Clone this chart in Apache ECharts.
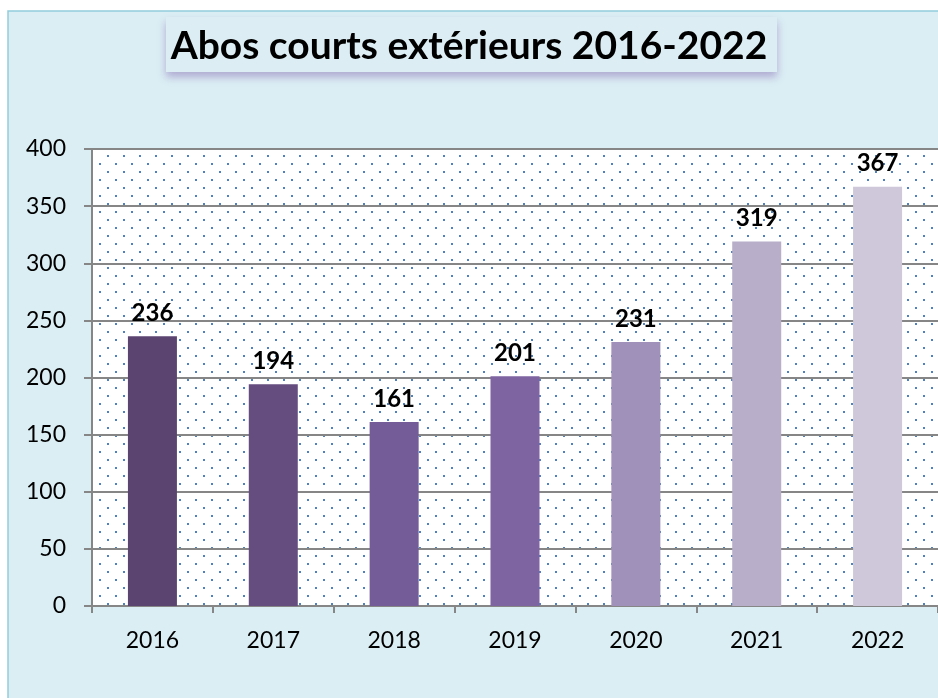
<!DOCTYPE html>
<html>
<head>
<meta charset="utf-8">
<script src="https://cdn.jsdelivr.net/npm/echarts@6/dist/echarts.min.js"></script>
<style>
    html, body { margin: 0; padding: 0; background: #fff; }
    #chart { width: 938px; height: 698px; }
</style>
</head>
<body>
<div id="chart"></div>
<script>
// données
const years = ['2016', '2017', '2018', '2019', '2020', '2021', '2022'];
const abos = [236, 194, 161, 201, 231, 319, 367];
const barColors = ['#5B4570', '#664D80', '#735C97', '#7F64A2', '#A091BA', '#B8AECA', '#CFC8DA'];
const yTicks = [0, 50, 100, 150, 200, 250, 300, 350, 400];

// motif à points du fond de la zone de tracé
function makeDots() {
    const c = document.createElement('canvas');
    c.width = 16;
    c.height = 16;
    const ctx = c.getContext('2d');
    ctx.fillStyle = '#fff';
    ctx.fillRect(0, 0, 16, 16);
    ctx.fillStyle = '#4F81BD';
    ctx.fillRect(3, 3, 2, 2);
    ctx.fillRect(11, 11, 2, 2);
    return c;
}

const FONT = 'Lato, "Open Sans", sans-serif';
const chart = echarts.init(document.getElementById('chart'));

chart.setOption({
    backgroundColor: '#fff',
    animation: false,
    title: {
        text: 'Abos courts extérieurs 2016-2022',
        left: 'center',
        top: 22,
        textStyle: {
            fontFamily: FONT,
            fontWeight: 'bold',
            fontSize: 39,
            color: '#000'
        }
    },
    graphic: [
        {
            // cadre extérieur
            type: 'rect',
            z: -10,
            shape: { x: 8, y: 11, width: 940, height: 700 },
            style: { fill: '#DBEEF4', stroke: '#93CDDD', lineWidth: 1.5 }
        },
        {
            // encadré du titre
            type: 'rect',
            z: -5,
            shape: { x: 166, y: 17, width: 611, height: 55 },
            style: {
                fill: '#DCEEF4',
                shadowBlur: 8,
                shadowOffsetY: 5,
                shadowColor: 'rgba(112, 70, 160, 0.4)'
            }
        }
    ],
    grid: {
        left: 92,
        right: -4,
        top: 149,
        bottom: 92,
        show: true,
        borderWidth: 0,
        backgroundColor: { image: makeDots(), repeat: 'repeat' }
    },
    xAxis: {
        type: 'category',
        data: years,
        axisLine: { lineStyle: { color: '#868686', width: 2 } },
        axisTick: { show: true, length: 7, lineStyle: { color: '#868686', width: 2 } },
        axisLabel: {
            margin: 23,
            fontFamily: FONT,
            fontSize: 23,
            color: '#000'
        }
    },
    yAxis: {
        type: 'value',
        min: yTicks[0],
        max: yTicks[yTicks.length - 1],
        interval: 50,
        axisLine: { show: true, lineStyle: { color: '#868686', width: 2 } },
        axisTick: { show: true, length: 8, lineStyle: { color: '#868686', width: 2 } },
        splitLine: { lineStyle: { color: '#868686', width: 2 } },
        axisLabel: {
            margin: 26,
            fontFamily: FONT,
            fontSize: 23,
            color: '#000'
        }
    },
    series: [
        {
            type: 'bar',
            barWidth: 49,
            data: abos.map((v, i) => ({ value: v, itemStyle: { color: barColors[i] } })),
            label: {
                show: true,
                position: 'top',
                distance: 11,
                fontFamily: FONT,
                fontWeight: 'bold',
                fontSize: 24,
                color: '#000'
            }
        }
    ]
});
</script>
</body>
</html>
